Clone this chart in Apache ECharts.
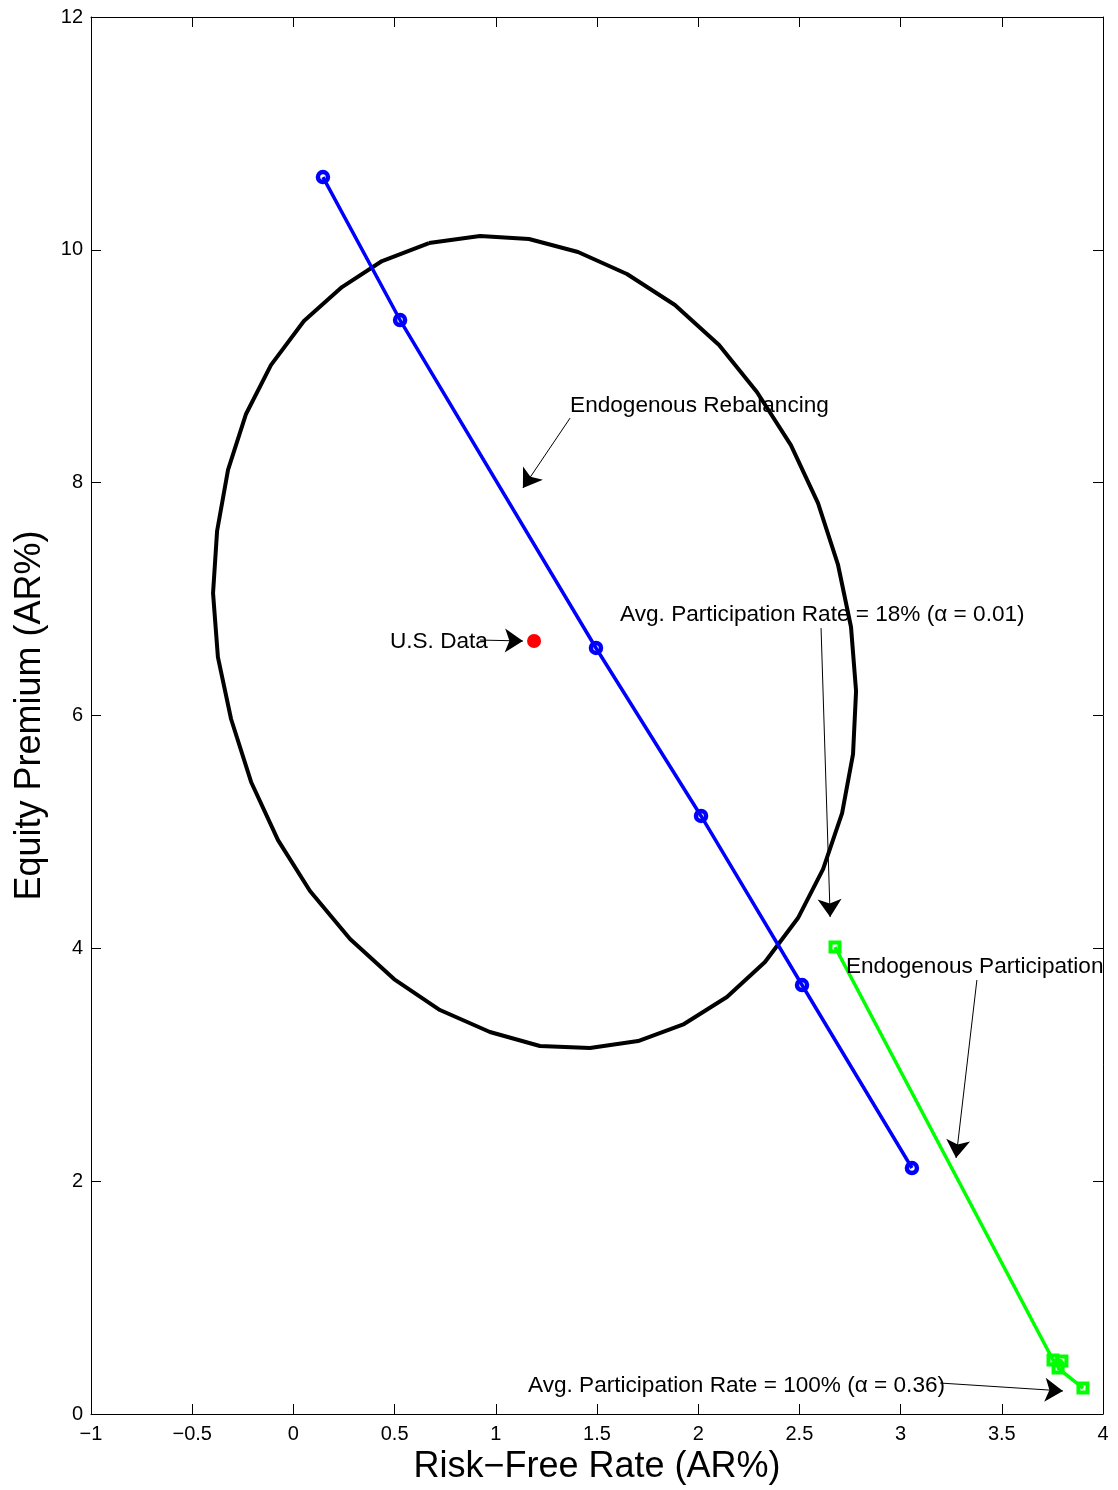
<!DOCTYPE html>
<html>
<head>
<meta charset="utf-8">
<script src="https://cdn.jsdelivr.net/npm/echarts@6/dist/echarts.min.js"></script>
<style>
html,body{margin:0;padding:0;background:#fff;}
#chart{width:1118px;height:1490px;}
</style>
</head>
<body>
<div id="chart"></div>
<script>
// ---- data ----
var ellipseX = [0.670, 0.922, 1.164, 1.406, 1.648, 1.885, 2.103, 2.290, 2.458, 2.592, 2.691, 2.755, 2.780, 2.765, 2.711, 2.617, 2.493, 2.330, 2.142, 1.930, 1.703, 1.465, 1.218, 0.971, 0.724, 0.497, 0.280, 0.082, -0.076, -0.209, -0.308, -0.373, -0.397, -0.377, -0.323, -0.234, -0.111, 0.052, 0.240, 0.438, 0.670];
var ellipseY = [10.058, 10.118, 10.093, 9.981, 9.792, 9.526, 9.182, 8.779, 8.323, 7.825, 7.293, 6.760, 6.210, 5.669, 5.162, 4.681, 4.260, 3.882, 3.582, 3.350, 3.204, 3.144, 3.161, 3.281, 3.470, 3.736, 4.080, 4.492, 4.930, 5.429, 5.970, 6.502, 7.052, 7.585, 8.109, 8.590, 9.010, 9.389, 9.680, 9.904, 10.058];

var rebalX = [0.146, 0.527, 1.495, 2.014, 2.513, 3.056];
var rebalY = [10.625, 9.397, 6.580, 5.137, 3.685, 2.113];

var partX = [2.676, 3.753, 3.797, 3.778, 3.901];
var partY = [4.011, 0.464, 0.455, 0.395, 0.223];

var usDataX = [1.189];
var usDataY = [6.640];

var annotTexts = ['Endogenous Rebalancing', 'U.S. Data', 'Avg. Participation Rate = 18% (\u03b1 = 0.01)', 'Endogenous Participation', 'Avg. Participation Rate = 100% (\u03b1 = 0.36)'];
var annotX = [1.367, 0.477, 1.614, 2.730, 1.159];
var annotY = [8.660, 6.633, 6.865, 3.842, 0.243];

var arrowFromX = [1.367, 0.922, 2.607, 3.377, 3.195];
var arrowFromY = [8.555, 6.648, 6.751, 3.728, 0.266];
var arrowToX = [1.134, 1.134, 2.652, 3.274, 3.802];
var arrowToY = [7.954, 6.640, 4.269, 2.199, 0.198];

var xTicks = {min: -1, max: 4, interval: 0.5};
var yTicks = {min: 0, max: 12, interval: 2};

// ---- chart ----
var FONT = "'Liberation Sans', Arial, Helvetica, sans-serif";
function zip(a, b) { return a.map(function (v, i) { return [v, b[i]]; }); }

var chart = echarts.init(document.getElementById('chart'), null, {renderer: 'canvas'});

var axisCommon = {
  axisLine: {show: true, onZero: false, lineStyle: {color: '#000', width: 1}},
  axisTick: {show: true, inside: true, length: 10, lineStyle: {color: '#000', width: 1}},
  splitLine: {show: false}
};

function minusFmt(v) { return String(v).replace('-', '\u2212'); }

var option = {
  backgroundColor: '#fff',
  animation: false,
  grid: {left: 91, right: 15, top: 17, bottom: 76, containLabel: false},
  xAxis: [
    Object.assign({
      type: 'value', position: 'bottom', min: xTicks.min, max: xTicks.max, interval: xTicks.interval,
      name: 'Risk\u2212Free Rate (AR%)', nameLocation: 'middle', nameGap: 34,
      nameTextStyle: {fontFamily: FONT, fontSize: 36, color: '#000'},
      axisLabel: {fontFamily: FONT, fontSize: 20, color: '#000', margin: 10, formatter: minusFmt}
    }, axisCommon),
    Object.assign({
      type: 'value', position: 'top', min: xTicks.min, max: xTicks.max, interval: xTicks.interval,
      axisLabel: {show: false}
    }, axisCommon)
  ],
  yAxis: [
    Object.assign({
      type: 'value', position: 'left', min: yTicks.min, max: yTicks.max, interval: yTicks.interval,
      name: 'Equity Premium (AR%)', nameLocation: 'middle', nameGap: 43,
      nameTextStyle: {fontFamily: FONT, fontSize: 36, color: '#000'},
      axisLabel: {fontFamily: FONT, fontSize: 20, color: '#000', margin: 8}
    }, axisCommon),
    Object.assign({
      type: 'value', position: 'right', min: yTicks.min, max: yTicks.max, interval: yTicks.interval,
      axisLabel: {show: false}
    }, axisCommon)
  ],
  series: [
    {
      type: 'line', data: zip(ellipseX, ellipseY), showSymbol: false, symbol: 'none',
      lineStyle: {color: '#000', width: 4}, z: 2
    },
    {
      type: 'line', data: zip(rebalX, rebalY), showSymbol: false, symbol: 'none',
      lineStyle: {color: '#0000ff', width: 3.5}, z: 4
    },
    {
      type: 'scatter', data: zip(rebalX, rebalY), symbol: 'circle', symbolSize: 10,
      itemStyle: {color: 'rgba(0,0,0,0)', borderColor: '#0000ff', borderWidth: 4.5, opacity: 1}, z: 5
    },
    {
      type: 'line', data: zip(partX, partY), showSymbol: false, symbol: 'none',
      lineStyle: {color: '#00ff00', width: 3.5}, z: 4
    },
    {
      type: 'scatter', data: zip(partX, partY), symbol: 'rect', symbolSize: 9,
      itemStyle: {color: 'rgba(0,0,0,0)', borderColor: '#00ff00', borderWidth: 4, opacity: 1}, z: 5
    },
    {
      type: 'scatter', data: zip(usDataX, usDataY), symbol: 'circle', symbolSize: 14,
      itemStyle: {color: '#ff0000', opacity: 1}, z: 5
    },
    {
      type: 'lines', coordinateSystem: 'cartesian2d', polyline: false,
      data: arrowFromX.map(function (x, i) {
        return {coords: [[x, arrowFromY[i]], [arrowToX[i], arrowToY[i]]]};
      }),
      symbol: ['none', 'arrow'], symbolSize: [0, 18],
      lineStyle: {color: '#000', width: 1, opacity: 1, curveness: 0}, z: 6
    },
    {
      type: 'scatter', symbolSize: 0, z: 7,
      data: annotTexts.map(function (t, i) {
        return {value: [annotX[i], annotY[i]], name: t};
      }),
      label: {show: true, position: 'right', distance: 0, formatter: '{b}',
        fontFamily: FONT, fontSize: 22.6, color: '#000'},
      itemStyle: {opacity: 1},
      silent: true
    }
  ]
};
chart.setOption(option);
</script>
</body>
</html>
